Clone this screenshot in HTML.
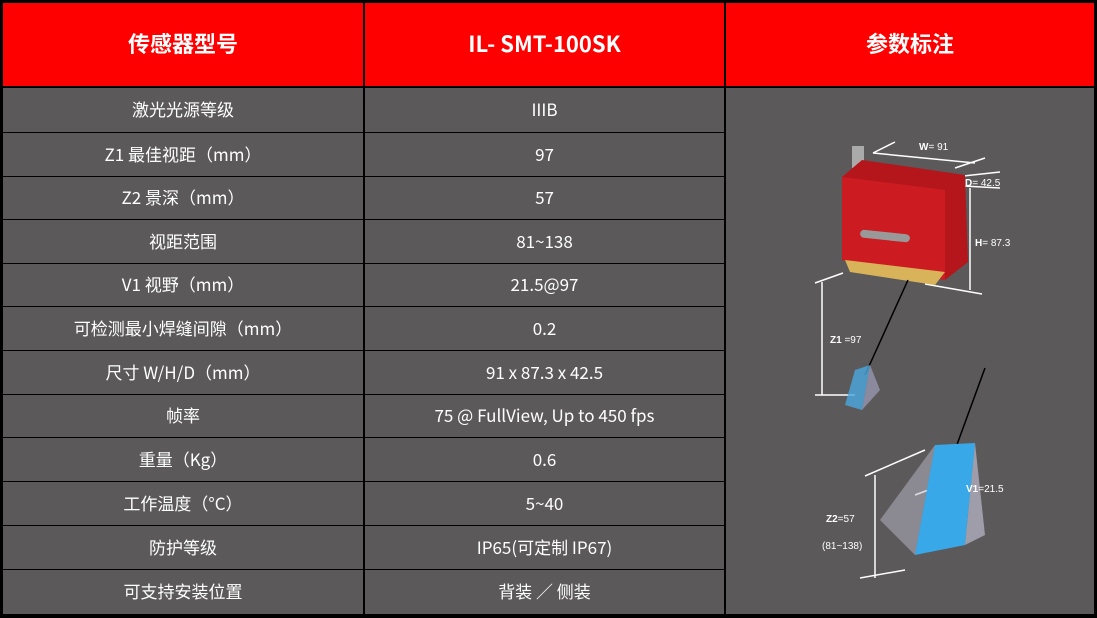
<!DOCTYPE html><html><head><meta charset="utf-8"><style>
body{margin:0;width:1097px;height:618px;background:#000;overflow:hidden;font-family:"Noto Sans CJK SC","Liberation Sans",sans-serif}
.c{position:absolute;display:flex;align-items:center;justify-content:center;color:#fff;line-height:1;box-sizing:border-box}
.h{background:#f00;font-weight:bold;font-size:22px;padding-bottom:4px}
.b{background:#5b5959;font-size:17px;padding-bottom:3px}
</style></head><body>
<div class="c h" style="left:3px;top:3px;width:360px;height:83px">传感器型号</div>
<div class="c h" style="left:365px;top:3px;width:359px;height:83px">IL- SMT-100SK</div>
<div class="c h" style="left:726px;top:3px;width:368px;height:83px">参数标注</div>
<div id="rows"></div>
<div class="c b" style="left:726px;top:88px;width:368px;height:526px"></div>
<svg style="position:absolute;left:726px;top:88px" width="368" height="526" viewBox="726 88 368 526">
<g stroke="#fff" stroke-width="1.5" fill="none">
<line x1="873" y1="153" x2="975" y2="163"/><line x1="873" y1="153" x2="895" y2="142"/><line x1="955" y1="168" x2="985" y2="158"/>
<line x1="945" y1="178" x2="1000" y2="172"/><line x1="945" y1="185" x2="1000" y2="188"/>
<line x1="970" y1="188" x2="970" y2="290"/><line x1="925" y1="284" x2="982" y2="294"/>
<line x1="822" y1="282" x2="822" y2="395"/><line x1="815" y1="283" x2="843" y2="273"/><line x1="815" y1="395" x2="855" y2="395"/>
<line x1="875" y1="475" x2="875" y2="578"/><line x1="860" y1="578" x2="905" y2="570"/><line x1="865" y1="476" x2="925" y2="450"/>
<line x1="915" y1="495" x2="955" y2="480"/>
</g>
<rect x="852" y="146" width="12" height="22" fill="#aaa"/>
<polygon points="842,177 862,160 965,175 968,262 945,280 842,260" fill="#b5161b"/>
<polygon points="842,177 945,190 945,280 842,260" fill="#cc1c22"/>
<polygon points="845,260 945,272 935,285 850,272" fill="#d8b35a"/>
<rect x="860" y="232" width="50" height="8" rx="4" fill="#999" transform="rotate(6 885 236)"/>
<line x1="908" y1="280" x2="865" y2="375" stroke="#000" stroke-width="1.5"/>
<line x1="985" y1="368" x2="955" y2="450" stroke="#000" stroke-width="1.5"/>
<polygon points="855,370 870,365 862,410 845,405" fill="#4aa8e0" opacity=".8"/>
<polygon points="870,365 880,390 862,410" fill="#aac" opacity=".6"/>
<polygon points="935,445 975,443 965,545 915,555" fill="#38a8e8"/>
<polygon points="975,443 985,535 965,545" fill="#bbc" opacity=".7"/>
<polygon points="935,445 880,520 915,555" fill="#bbc" opacity=".5"/>
<g fill="#fff" font-size="10" font-family="Liberation Sans,sans-serif">
<text x="919" y="150"><tspan font-weight="bold">W</tspan>= 91</text>
<text x="965" y="186"><tspan font-weight="bold">D</tspan>= 42.5</text>
<text x="975" y="246"><tspan font-weight="bold">H</tspan>= 87.3</text>
<text x="830" y="343"><tspan font-weight="bold">Z1</tspan> =97</text>
<text x="966" y="492"><tspan font-weight="bold">V1</tspan>=21.5</text>
<text x="826" y="522"><tspan font-weight="bold">Z2</tspan>=57</text>
<text x="822" y="549">(81~138)</text>
</g>
</svg>
<script>
var L=["激光光源等级","Z1 最佳视距（mm）","Z2 景深（mm）","视距范围","V1 视野（mm）","可检测最小焊缝间隙（mm）","尺寸 W/H/D（mm）","帧率","重量（Kg）","工作温度（°C）","防护等级","可支持安装位置"];
var R=["IIIB","97","57","81~138","21.5@97","0.2","91 x 87.3 x 42.5","75 @ FullView, Up to 450 fps","0.6","5~40","IP65(可定制 IP67)","背装 ／ 侧装"];
var y=[88,133,177,220,264,307,351,395,438,482,526,570,614],h="";
for(var i=0;i<12;i++){var t=y[i],hh=y[i+1]-t-1;if(i==11)hh=y[12]-t;
h+='<div class="c b" style="left:3px;top:'+t+'px;width:360px;height:'+hh+'px">'+L[i]+'</div>';
h+='<div class="c b" style="left:365px;top:'+t+'px;width:359px;height:'+hh+'px">'+R[i]+'</div>';}
document.getElementById("rows").innerHTML=h;
</script>
</body></html>
